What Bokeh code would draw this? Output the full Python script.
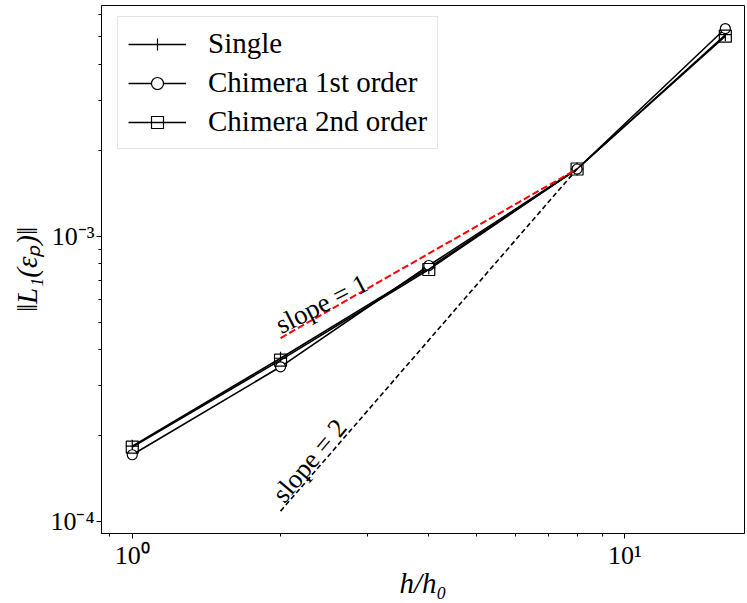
import math
from bokeh.plotting import figure
from bokeh.models import Range1d, FixedTicker, Legend, LegendItem
from bokeh.core.properties import value
from bokeh.embed import file_html
from bokeh.resources import INLINE

# ---- data ----
h_ratio = [1, 2, 4, 8, 16]
err_single = [1.84e-4, 3.74e-4, 7.75e-4, 1.72e-3, 5.08e-3]
err_chimera1 = [1.717e-4, 3.49e-4, 7.90e-4, 1.72e-3, 5.34e-3]
err_chimera2 = [1.827e-4, 3.683e-4, 7.65e-4, 1.72e-3, 5.02e-3]

slope_x = [2, 8]
slope1_y = [4.4e-4, 1.72e-3]
slope2_y = [1.09e-4, 1.72e-3]

x_major = [1, 10]
x_minor = [0.9, 2, 3, 4, 5, 6, 7, 8, 9]
x_labels = {1: "10⁰", 10: "10¹"}
y_major = [1e-4, 1e-3]
y_minor = [9e-5, 2e-4, 3e-4, 4e-4, 5e-4, 6e-4, 7e-4, 8e-4, 9e-4,
           2e-3, 3e-3, 4e-3, 5e-3, 6e-3]
y_labels = {1e-4: "10⁻⁴", 1e-3: "10⁻³"}

series_names = ["Single", "Chimera 1st order", "Chimera 2nd order"]
slope_labels = ["slope = 1", "slope = 2"]
x_title = "h/h₀"
y_title = "‖L₁(εₚ)‖"

FONT = "Liberation Serif"

X0, X1 = 0.866, 17.5
Y0, Y1 = 9.10e-5, 6.43e-3

p = figure(width=745, height=601,
           x_axis_type="log", y_axis_type="log",
           x_range=Range1d(X0, X1), y_range=Range1d(Y0, Y1),
           output_backend="svg", toolbar_location=None,
           min_border_left=101, min_border_right=1,
           min_border_top=5, min_border_bottom=66)

p.background_fill_color = "white"
p.border_fill_color = "white"
p.outline_line_color = "black"
p.outline_line_width = 1
p.xgrid.grid_line_color = None
p.ygrid.grid_line_color = None

p.xaxis.ticker = FixedTicker(ticks=x_major, minor_ticks=x_minor)
p.yaxis.ticker = FixedTicker(ticks=y_major, minor_ticks=y_minor)
p.xaxis.major_label_overrides = x_labels
p.yaxis.major_label_overrides = y_labels

for ax in (p.xaxis[0], p.yaxis[0]):
    ax.axis_line_color = "black"
    ax.axis_line_width = 1
    ax.major_tick_line_color = "black"
    ax.minor_tick_line_color = "black"
    ax.major_tick_in = 0
    ax.major_tick_out = 5
    ax.minor_tick_in = 0
    ax.minor_tick_out = 3
    ax.major_label_text_font = FONT
    ax.major_label_text_font_size = "26px"
    ax.major_label_text_color = "black"
    ax.major_label_standoff = 2
    ax.axis_label_text_font = FONT
    ax.axis_label_text_font_size = "29px"
    ax.axis_label_text_font_style = "italic"
    ax.axis_label_text_color = "black"

p.xaxis.axis_label = x_title
p.yaxis.axis_label = y_title
p.xaxis.axis_label_standoff = -6
p.yaxis.axis_label_standoff = 4

# data lines
l1 = p.line(h_ratio, err_single, line_color="black", line_width=1.6)
m1 = p.scatter(h_ratio, err_single, marker="cross", size=13,
               line_color="black", line_width=1.2)
l2 = p.line(h_ratio, err_chimera1, line_color="black", line_width=1.6)
m2 = p.scatter(h_ratio, err_chimera1, marker="circle", size=10,
               line_color="black", fill_color="white", line_width=1.2)
l3 = p.line(h_ratio, err_chimera2, line_color="black", line_width=1.6)
m3 = p.scatter(h_ratio, err_chimera2, marker="square", size=12,
               line_color="black", fill_alpha=0, line_width=1.2)

# reference slope lines
p.line(slope_x, slope1_y, line_color="#ff0000", line_width=2, line_dash="7 3")
p.line(slope_x, slope2_y, line_color="black", line_width=1.6, line_dash="5 3")

p.text(x=[1.972], y=[4.84e-4], text=[slope_labels[0]],
       angle=27 * math.pi / 180, text_font=value(FONT),
       text_font_size="27px", text_color="black",
       text_align="left", text_baseline="alphabetic")
p.text(x=[1.972], y=[1.206e-4], text=[slope_labels[1]],
       angle=50 * math.pi / 180, text_font=value(FONT),
       text_font_size="27px", text_color="black",
       text_align="left", text_baseline="alphabetic")

legend = Legend(items=[
    LegendItem(label=series_names[0], renderers=[l1, m1]),
    LegendItem(label=series_names[1], renderers=[l2, m2]),
    LegendItem(label=series_names[2], renderers=[l3, m3]),
], location=(16, 384))
legend.margin = 0
legend.padding = 10
legend.spacing = 6
legend.glyph_width = 58
legend.glyph_height = 30
legend.label_height = 30
legend.label_standoff = 22
legend.label_text_font = FONT
legend.label_text_font_size = "29px"
legend.label_text_color = "black"
legend.border_line_color = "#cccccc"
legend.border_line_width = 1
legend.background_fill_color = "white"
legend.background_fill_alpha = 0.8
p.add_layout(legend)

open("out.html", "w").write(file_html(p, INLINE))
